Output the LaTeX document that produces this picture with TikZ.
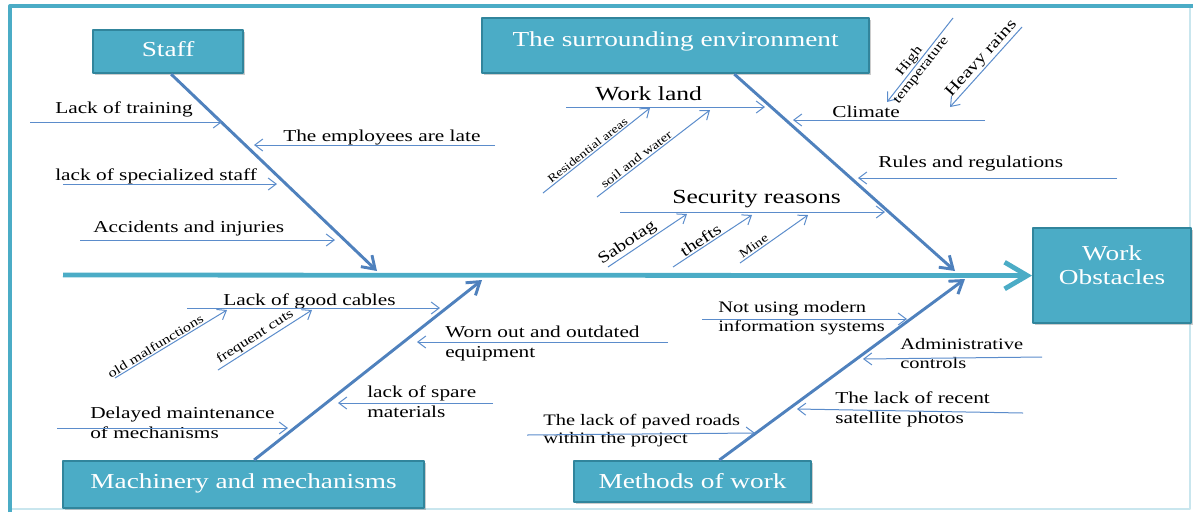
\documentclass[tikz,border=0pt]{standalone}
\usepackage{fontspec}
\setmainfont{Liberation Serif}[FakeStretch=1.28]
\usetikzlibrary{arrows.meta,calc,shadows}

\definecolor{fishframe}{HTML}{4BACC6}
\definecolor{fishboxedge}{HTML}{31859C}
\definecolor{fishbone}{HTML}{4F81BD}
\definecolor{fishtwig}{HTML}{5B8CCB}

\begin{document}
\begin{tikzpicture}[x=0.75pt,y=-0.75pt,line join=round,
  >={Straight Barb[length=6pt,width=9pt]},
  headbox/.style={draw=fishboxedge,line width=1.6pt,fill=fishframe,text=white,
    font=\fontsize{16}{18}\selectfont,inner sep=0pt,align=center,anchor=north west,
    drop shadow={shadow xshift=1.2pt,shadow yshift=-1.2pt,opacity=0.4}},
  spine/.style={draw=fishframe,line width=3.6pt,-{Straight Barb[length=17pt,width=20pt]}},
  bone/.style={draw=fishbone,line width=2.2pt,-{Straight Barb[length=9pt,width=12pt]}},
  twig/.style={draw=fishtwig,line width=0.75pt},
  cause/.style={font=\fontsize{12.5}{14.5}\selectfont,inner sep=0pt,anchor=base west,align=left},
  branch/.style={font=\fontsize{15}{18}\selectfont,inner sep=0pt,anchor=base west},
  minor/.style={sloped,above=1pt,inner sep=0pt,font=\fontsize{9}{10}\selectfont}]
  \useasboundingbox (0,0) rectangle (1193,512);

  % Page frame: strong teal on top and left, faint on the other two sides.
  \draw[fishframe!30,line width=1.5pt] (10,509) -- (1190,509) -- (1190,6);
  \draw[fishframe,line width=3pt] (10,512) -- (10,6) -- (1193,6);

  % Category boxes; text height/depth keep the label near the top edge
  % (for two lines the base is the last line).
  \node[headbox,minimum width=112.5pt,text height=19.5pt,text depth=12.75pt] (staff) at (92,29) {Staff};
  \node[headbox,minimum width=290.25pt,text height=21pt,text depth=20.25pt] (env) at (481,17) {The surrounding environment};
  \node[headbox,minimum width=270.75pt,text height=20.25pt,text depth=15pt] (machines) at (62,460) {Machinery and mechanisms};
  \node[headbox,minimum width=177.75pt,text height=20.25pt,text depth=10.5pt] (methods) at (573,460) {Methods of work};
  \node[headbox,minimum width=118.5pt,text height=42pt,text depth=29.25pt] (goal) at (1032,227) {Work\\Obstacles};

  % Spine and the four main bones.
  \coordinate (tail) at (63,275);
  \coordinate (staff tip) at (377,271);
  \coordinate (env tip) at (955,271);
  \coordinate (machine tip) at (482,280);
  \coordinate (method tip) at (965,279);
  \draw[spine] (tail) -- (goal.west);
  \draw[bone] ($(staff.south west)!0.52!(staff.south east)$) -- (staff tip);
  \draw[bone] ($(env.south west)!0.651!(env.south east)$) -- (env tip);
  \draw[bone] ($(machines.north west)!0.529!(machines.north east)$) -- (machine tip);
  \draw[bone] ($(methods.north west)!0.612!(methods.north east)$) -- (method tip);

  % Staff causes.
  \coordinate (training-a) at (30,122);    \coordinate (training-b) at (222,122);
  \coordinate (late-a) at (495,145);       \coordinate (late-b) at (254,145);
  \coordinate (special-a) at (63,184);     \coordinate (special-b) at (277,184);
  \coordinate (accident-a) at (80,240);    \coordinate (accident-b) at (335,240);
  \node[cause] (training) at (55,113) {Lack of training};
  \node[cause] (late) at (283,141) {The employees are late};
  \node[cause] (special) at (55,180) {lack of specialized staff};
  \node[cause] (accident) at (93,232) {Accidents and injuries};
  \draw[twig,->] (training-a) -- (training-b);
  \draw[twig,->] (late-a) -- (late-b);
  \draw[twig,->] (special-a) -- (special-b);
  \draw[twig,->] (accident-a) -- (accident-b);

  % Surrounding environment causes.
  \coordinate (land-a) at (566,107);       \coordinate (land-b) at (765,107);
  \coordinate (resid-a) at (543,193);      \coordinate (resid-b) at (650,108);
  \coordinate (soil-a) at (597,197);       \coordinate (soil-b) at (710,110);
  \coordinate (secure-a) at (620,212);     \coordinate (secure-b) at (885,212);
  \coordinate (sabot-a) at (608,267);      \coordinate (sabot-b) at (687,214);
  \coordinate (theft-a) at (673,267);      \coordinate (theft-b) at (752,215);
  \coordinate (mine-a) at (740,263);       \coordinate (mine-b) at (808,215);
  \coordinate (climate-a) at (985,120);    \coordinate (climate-b) at (793,120);
  \coordinate (heat-a) at (953,18);        \coordinate (heat-b) at (887,102);
  \coordinate (rain-a) at (1022,27);       \coordinate (rain-b) at (950,107);
  \coordinate (rules-a) at (1117,178);     \coordinate (rules-b) at (858,178);
  \node[branch] (land) at (595,100) {Work land};
  \node[branch] (secure) at (672,203) {Security reasons};
  \node[cause] (climate) at (832,117) {Climate};
  \node[cause] (rules) at (878,167) {Rules and regulations};
  \draw[twig,->] (land-a) -- (land-b);
  \draw[twig,->] (resid-a) -- node[minor,pos=0.45,font=\fontsize{8.5}{10}\selectfont] (resid) {Residential areas} (resid-b);
  \draw[twig,->] (soil-a) -- node[minor,pos=0.38] (soil) {soil and water} (soil-b);
  \draw[twig,->] (secure-a) -- (secure-b);
  \draw[twig,->] (sabot-a) -- node[minor,pos=0.31,font=\fontsize{12}{14}\selectfont] (sabot) {Sabotag} (sabot-b);
  \draw[twig,->] (theft-a) -- node[minor,pos=0.40,font=\fontsize{12}{14}\selectfont] (theft) {thefts} (theft-b);
  \draw[twig,->] (mine-a) -- node[minor,pos=0.25] (mine) {Mine} (mine-b);
  \draw[twig,->] (climate-a) -- (climate-b);
  \draw[twig,<-] (heat-b) -- node[sloped,pos=0.43,align=center,inner sep=0pt,font=\fontsize{10}{11}\selectfont] (heat) {High\\temperature} (heat-a);
  \draw[twig,<-] (rain-b) -- node[minor,pos=0.53,font=\fontsize{12}{14}\selectfont] (rain) {Heavy rains} (rain-a);
  \draw[twig,->] (rules-a) -- (rules-b);

  % Machinery causes (two-line labels sit on their second baseline).
  \coordinate (cable-a) at (187,308);      \coordinate (cable-b) at (440,308);
  \coordinate (old-a) at (115,378);        \coordinate (old-b) at (227,310);
  \coordinate (cut-a) at (218,370);        \coordinate (cut-b) at (312,310);
  \coordinate (worn-a) at (668,342);       \coordinate (worn-b) at (417,342);
  \coordinate (spare-a) at (493,403);      \coordinate (spare-b) at (338,403);
  \coordinate (delay-a) at (57,428);       \coordinate (delay-b) at (288,428);
  \node[cause] (cable) at (223,305) {Lack of good cables};
  \node[cause] (worn) at (445,357) {Worn out and outdated\\equipment};
  \node[cause] (spare) at (367,417) {lack of spare\\materials};
  \node[cause] (delay) at (90,438) {Delayed maintenance\\of mechanisms};
  \draw[twig,->] (cable-a) -- (cable-b);
  \draw[twig,->] (old-a) -- node[minor,pos=0.39,font=\fontsize{9.5}{11}\selectfont] (old) {old malfunctions} (old-b);
  \draw[twig,->] (cut-a) -- node[minor,pos=0.44,font=\fontsize{10}{11}\selectfont] (cut) {frequent cuts} (cut-b);
  \draw[twig,->] (worn-a) -- (worn-b);
  \draw[twig,->] (spare-a) -- (spare-b);
  \draw[twig,->] (delay-a) -- (delay-b);

  % Methods of work causes.
  \coordinate (modern-a) at (702,319);     \coordinate (modern-b) at (907,319);
  \coordinate (admin-a) at (1042,357);     \coordinate (admin-b) at (863,359);
  \coordinate (photo-a) at (1023,413);     \coordinate (photo-b) at (797,409);
  \coordinate (road-a) at (527,435);       \coordinate (road-b) at (755,433);
  \node[cause,font=\fontsize{12}{14}\selectfont] (modern) at (718,331) {Not using modern\\information systems};
  \node[cause,font=\fontsize{12}{14}\selectfont] (admin) at (900,368) {Administrative\\controls};
  \node[cause] (photo) at (835,423) {The lack of recent\\satellite photos};
  \node[cause,font=\fontsize{12}{13.5}\selectfont] (road) at (543,443) {The lack of paved roads\\within the project};
  \draw[twig,->] (modern-a) -- (modern-b);
  \draw[twig,->] (admin-a) -- (admin-b);
  \draw[twig,->] (photo-a) -- (photo-b);
  \draw[twig,->] (road-a) -- (road-b);
\end{tikzpicture}
\end{document}
